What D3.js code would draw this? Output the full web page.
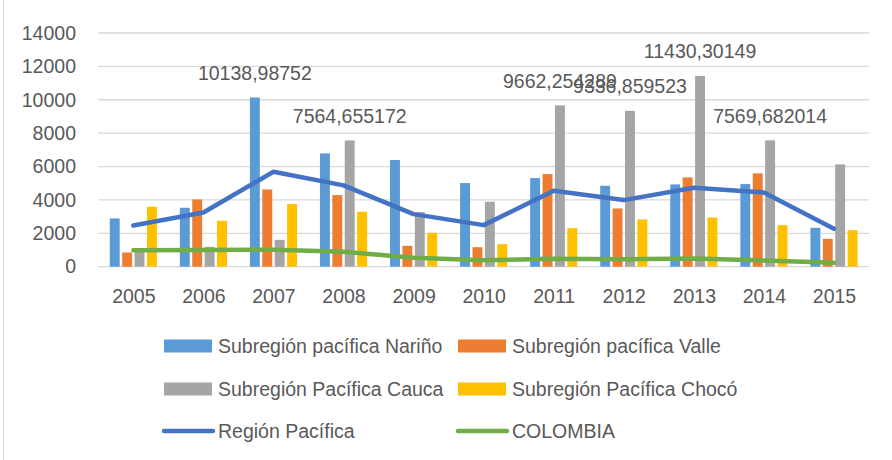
<!DOCTYPE html>
<html>
<head>
<meta charset="utf-8">
<script src="https://cdn.jsdelivr.net/npm/d3@7"></script>
<style>
  html, body { margin: 0; padding: 0; background: #ffffff; }
  svg { display: block; }
  text { font-family: "Liberation Sans", Arial, sans-serif; fill: #595959; }
</style>
</head>
<body>
<svg id="chart" width="892" height="460"></svg>
<script>
// ---- data ----
const years = ["2005","2006","2007","2008","2009","2010","2011","2012","2013","2014","2015"];
const narino  = [2890, 3530, 10138.98752, 6790, 6390, 5010, 5310, 4850, 4930, 4950, 2330];
const valle   = [850, 4030, 4630, 4290, 1250, 1170, 5550, 3490, 5350, 5590, 1670];
const cauca   = [900, 1190, 1610, 7564.655172, 3270, 3890, 9662.254289, 9336.859523, 11430.30149, 7569.682014, 6130];
const choco   = [3590, 2750, 3750, 3290, 2030, 1350, 2310, 2830, 2950, 2490, 2190];
const region  = [2470, 3250, 5690, 4870, 3150, 2490, 4550, 3990, 4730, 4450, 2270];
const colombia= [990, 1000, 1020, 890, 530, 390, 470, 450, 490, 370, 230];
const yTicks  = [0, 2000, 4000, 6000, 8000, 10000, 12000, 14000];
const labeledNarino = ["2007"];
const labeledCauca  = ["2008","2011","2012","2013","2014"];

const barSeries = [
  {name: "Subregión pacífica Nariño", values: narino, color: "#5B9BD5", labels: labeledNarino},
  {name: "Subregión pacífica Valle",  values: valle,  color: "#ED7D31", labels: []},
  {name: "Subregión Pacífica Cauca",  values: cauca,  color: "#A5A5A5", labels: labeledCauca},
  {name: "Subregión Pacífica Chocó",  values: choco,  color: "#FFC000", labels: []}
];
const lineSeries = [
  {name: "Región Pacífica", values: region,   color: "#4472C4"},
  {name: "COLOMBIA",        values: colombia, color: "#70AD47"}
];

// ---- layout ----
const svg = d3.select("#chart");
const plotLeft = 98.3, plotRight = 869, plotTop = 33, plotBottom = 266.7;

svg.append("line").attr("x1", 3.5).attr("x2", 3.5).attr("y1", 0).attr("y2", 460)
  .attr("stroke", "#d9d9d9").attr("stroke-width", 1);

const y = d3.scaleLinear().domain([0, 14000]).range([plotBottom, plotTop]);
const x0 = d3.scaleBand().domain(years).range([plotLeft, plotRight]).paddingInner(0.292).paddingOuter(0.146);
const x1 = d3.scaleBand().domain(barSeries.map(s => s.name)).range([0, x0.bandwidth()]).paddingInner(0.2).paddingOuter(0.1);
const xc = d3.scalePoint().domain(years).range([plotLeft, plotRight]).padding(0.5);

// gridlines
svg.append("g").selectAll("line").data(yTicks).join("line")
  .attr("x1", plotLeft).attr("x2", plotRight)
  .attr("y1", d => y(d)).attr("y2", d => y(d))
  .attr("stroke", "#d9d9d9").attr("stroke-width", 1.3);

// y axis labels
const yAxis = d3.axisLeft(y).tickValues(yTicks).tickSize(0).tickPadding(0).tickFormat(d3.format("d"));
const yg = svg.append("g").attr("transform", `translate(76,0)`).call(yAxis);
yg.select(".domain").remove();
yg.selectAll("text").style("font-size", "19.5px").style("font-family", "Liberation Sans, Arial, sans-serif").attr("fill", "#595959");

// x axis labels
const xAxis = d3.axisBottom(xc).tickSize(0).tickPadding(0);
const xg = svg.append("g").attr("transform", `translate(0,${plotBottom + 22})`).call(xAxis);
xg.select(".domain").remove();
xg.selectAll("text").style("font-size", "19.5px").style("font-family", "Liberation Sans, Arial, sans-serif").attr("fill", "#595959");

// bars
barSeries.forEach(s => {
  svg.append("g").selectAll("rect").data(years.map((yr, i) => ({yr, v: s.values[i]}))).join("rect")
    .attr("x", d => x0(d.yr) + x1(s.name))
    .attr("width", x1.bandwidth())
    .attr("y", d => y(d.v))
    .attr("height", d => y(0) - y(d.v))
    .attr("fill", s.color);
});

// lines
const lineGen = d3.line().x((d, i) => xc(years[i])).y(d => y(d));
lineSeries.forEach(s => {
  svg.append("path").datum(s.values)
    .attr("d", lineGen)
    .attr("fill", "none")
    .attr("stroke", s.color)
    .attr("stroke-width", 4.5)
    .attr("stroke-linejoin", "round")
    .attr("stroke-linecap", "round");
});

// data labels
barSeries.forEach(s => {
  const pts = years.map((yr, i) => ({yr, v: s.values[i]})).filter(d => s.labels.includes(d.yr));
  svg.append("g").selectAll("text").data(pts).join("text")
    .attr("x", d => x0(d.yr) + x1(s.name) + x1.bandwidth() / 2)
    .attr("y", d => y(d.v) - 17.5)
    .attr("text-anchor", "middle")
    .style("font-size", "19.5px")
    .text(d => String(d.v).replace(".", ","));
});

// legend
const legendItems = [
  {s: barSeries[0], col: 0, row: 0, type: "rect"},
  {s: barSeries[1], col: 1, row: 0, type: "rect"},
  {s: barSeries[2], col: 0, row: 1, type: "rect"},
  {s: barSeries[3], col: 1, row: 1, type: "rect"},
  {s: lineSeries[0], col: 0, row: 2, type: "line"},
  {s: lineSeries[1], col: 1, row: 2, type: "line"}
];
const colX = [164, 458], rowY = [346, 389, 431];
legendItems.forEach(it => {
  const gx = colX[it.col], gy = rowY[it.row];
  const g = svg.append("g");
  if (it.type === "rect") {
    g.append("rect").attr("x", gx).attr("y", gy - 6.5).attr("width", 48).attr("height", 13).attr("fill", it.s.color);
  } else {
    g.append("line").attr("x1", gx).attr("x2", gx + 49).attr("y1", gy).attr("y2", gy)
      .attr("stroke", it.s.color).attr("stroke-width", 4.5).attr("stroke-linecap", "round");
  }
  g.append("text").attr("x", gx + 54).attr("y", gy + 7).style("font-size", "19.5px").text(it.s.name);
});
</script>
</body>
</html>
